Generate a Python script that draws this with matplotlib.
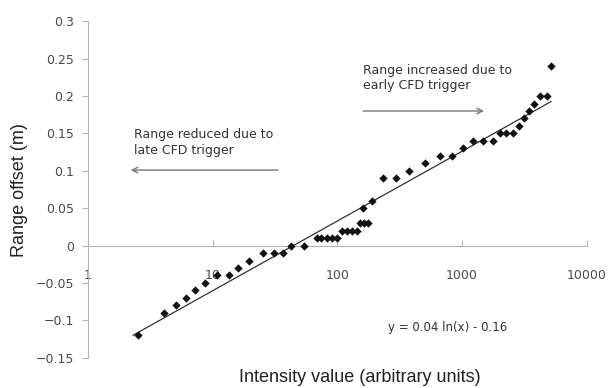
import numpy as np
import matplotlib
matplotlib.use('Agg')
import matplotlib.pyplot as plt

# ------------------------------------------------------------------
# data (intensity, range offset in m)
# ------------------------------------------------------------------
intensity = [2.5, 4.1, 5.1, 6.1, 7.2, 8.7, 10.8, 13.4, 15.9, 19.4,
             25.1, 31.3, 36.5, 42.6, 54.0,
             68.5, 73.8, 82.4, 90.4, 99.3,
             108.6, 119.0, 130.6, 143.3,
             152.0, 164.0, 177.0, 162.0, 189.0,
             234.0, 295.0, 377.0, 507.0, 660.0, 830.0, 1016.0,
             1223.0, 1472.0, 1758.0, 2027.0, 2264.0, 2543.0, 2844.0,
             3120.0, 3444.0, 3796.0, 4186.0, 4800.0, 5168.0]
offset = [-0.12, -0.09, -0.08, -0.07, -0.06, -0.05, -0.04, -0.04, -0.03, -0.02,
          -0.01, -0.01, -0.01, 0.0, 0.0,
          0.01, 0.01, 0.01, 0.01, 0.01,
          0.02, 0.02, 0.02, 0.02,
          0.03, 0.03, 0.03, 0.05, 0.06,
          0.09, 0.09, 0.10, 0.11, 0.12, 0.12, 0.13,
          0.14, 0.14, 0.14, 0.15, 0.15, 0.15, 0.16,
          0.17, 0.18, 0.19, 0.20, 0.20, 0.24]

y_ticks = [-0.15, -0.1, -0.05, 0, 0.05, 0.1, 0.15, 0.2, 0.25, 0.3]
y_labels = ['\u22120.15', '\u22120.1', '\u22120.05', '0', '0.05', '0.1',
            '0.15', '0.2', '0.25', '0.3']
x_ticks = [1, 10, 100, 1000, 10000]
x_labels = ['1', '10', '100', '1000', '10000']

# log trend line (fitted, as in the spreadsheet trendline)
slope, icpt = np.polyfit(np.log(intensity), offset, 1)
x_fit = np.geomspace(2.3, max(intensity), 200)
y_fit = slope * np.log(x_fit) + icpt

TICK_FONT = 'DejaVu Sans'
AXIS_GRAY = '#b5b5b5'
TEXT_GRAY = '#4a4a4a'

fig = plt.figure(figsize=(6.09, 3.88), dpi=100)
ax = fig.add_axes([88 / 609, 1 - 357.7 / 388, (586.7 - 88) / 609, (357.7 - 21.3) / 388])

ax.plot(x_fit, y_fit, color='#333333', linewidth=0.9, zorder=2)
ax.scatter(intensity, offset, marker='D', s=18, color='#111111', zorder=3,
           linewidths=0)

ax.set_xscale('log')
ax.set_xlim(1, 10000)
ax.set_ylim(-0.15, 0.3)

for s in ['top', 'right']:
    ax.spines[s].set_visible(False)
ax.spines['bottom'].set_position(('data', 0))
ax.spines['bottom'].set_color(AXIS_GRAY)
ax.spines['left'].set_color(AXIS_GRAY)

ax.set_yticks(y_ticks)
ax.set_yticklabels(y_labels, fontfamily=TICK_FONT, fontsize=9, color=TEXT_GRAY)
ax.set_xticks(x_ticks)
ax.set_xticklabels(x_labels, fontfamily=TICK_FONT, fontsize=9, color=TEXT_GRAY)
ax.xaxis.set_minor_locator(matplotlib.ticker.NullLocator())
ax.tick_params(axis='y', direction='out', length=4, color=AXIS_GRAY, pad=6)
ax.tick_params(axis='x', direction='in', length=4, color=AXIS_GRAY, pad=17)

# annotations
ax.text(0.551, 0.831, 'Range increased due to\nearly CFD trigger',
        transform=ax.transAxes, fontfamily=TICK_FONT, fontsize=9,
        color='#333333', va='center', ha='left', linespacing=1.25)
ax.annotate('', xy=(1500, 0.18), xytext=(161, 0.18),
            arrowprops=dict(arrowstyle='->', color='#777777', lw=1.0,
                            shrinkA=0, shrinkB=0))
ax.text(0.0925, 0.64, 'Range reduced due to\nlate CFD trigger',
        transform=ax.transAxes, fontfamily=TICK_FONT, fontsize=9,
        color='#333333', va='center', ha='left', linespacing=1.25)
ax.annotate('', xy=(2.2, 0.101), xytext=(33.5, 0.101),
            arrowprops=dict(arrowstyle='->', color='#777777', lw=1.0,
                            shrinkA=0, shrinkB=0))
ax.text(760, -0.11, 'y = 0.04 ln(x) - 0.16', fontfamily=TICK_FONT,
        fontsize=8.5, color='#333333', ha='center', va='center')

fig.text(360 / 609, 1 - 378 / 388, 'Intensity value (arbitrary units)',
         fontfamily='Liberation Sans', fontsize=13, color='#222222',
         ha='center', va='center')
fig.text(20 / 609, 1 - 190 / 388, 'Range offset (m)', rotation=90,
         fontfamily='Liberation Sans', fontsize=13, color='#222222',
         ha='center', va='center')

fig.savefig('out.png', dpi=100)
